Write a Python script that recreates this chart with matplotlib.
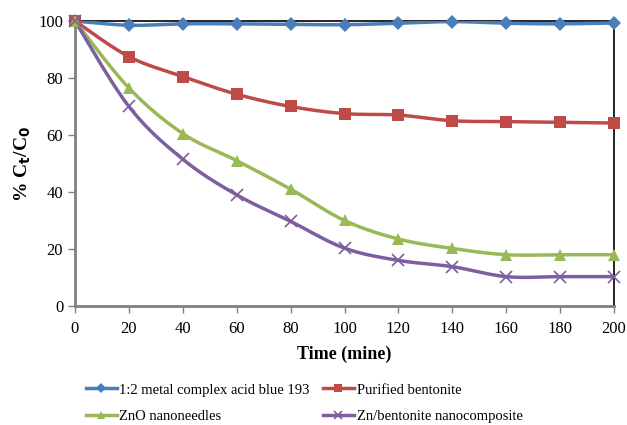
import numpy as np
import matplotlib
matplotlib.use("Agg")
import matplotlib.pyplot as plt
from matplotlib.lines import Line2D

plt.rcParams['font.family'] = ['Liberation Serif', 'DejaVu Serif']

time = [0, 20, 40, 60, 80, 100, 120, 140, 160, 180, 200]
dye = [100, 98.5, 99.0, 99.0, 98.8, 98.7, 99.2, 99.8, 99.2, 99.0, 99.3]
bentonite = [100, 87.5, 80.5, 74.3, 70.0, 67.5, 67.0, 65.0, 64.7, 64.5, 64.2]
zno = [100, 76.5, 60.5, 51.0, 41.0, 30.0, 23.5, 20.2, 18.0, 18.0, 18.0]
composite = [100, 70.0, 51.5, 39.0, 29.7, 20.3, 16.0, 13.8, 10.3, 10.3, 10.3]
labels = ["1:2 metal complex acid blue 193", "Purified bentonite",
          "ZnO nanoneedles", "Zn/bentonite nanocomposite"]


def smooth(x, y, n=20):
    # Catmull-Rom style smoothing for the drawn line (like Excel smoothed lines)
    x = np.asarray(x, float); y = np.asarray(y, float)
    px = np.concatenate([[x[0]], x, [x[-1]]])
    py = np.concatenate([[y[0]], y, [y[-1]]])
    xs, ys = [], []
    for i in range(1, len(px) - 2):
        t = np.linspace(0, 1, n, endpoint=False)
        for p, out in ((px, xs), (py, ys)):
            p0, p1, p2, p3 = p[i - 1], p[i], p[i + 1], p[i + 2]
            out.extend(0.5 * ((2 * p1) + (-p0 + p2) * t +
                              (2 * p0 - 5 * p1 + 4 * p2 - p3) * t ** 2 +
                              (-p0 + 3 * p1 - 3 * p2 + p3) * t ** 3))
    xs.append(x[-1]); ys.append(y[-1])
    return np.array(xs), np.array(ys)


fig = plt.figure(figsize=(6.27, 4.25), dpi=100)
ax = fig.add_axes([0.1196, 0.28, 0.9793 - 0.1196, 0.9506 - 0.28])

series = [
    (dye, '#4a7ebb', 'D', 7),
    (bentonite, '#be4b48', 's', 9),
    (zno, '#98b954', '^', 9),
    (composite, '#7d5fa0', 'x', 8),
]
handles = []
for (vals, c, m, ms), lab in zip(series, labels):
    sx, sy = smooth(time, vals)
    ax.plot(sx, sy, color=c, lw=2.5, zorder=3, solid_capstyle='round')
    mew = 1.2 if m == 'x' else 0
    ax.plot(time, vals, ls='none', marker=m, color=c, ms=ms, mew=mew, zorder=4, clip_on=False)
    handles.append(Line2D([0], [0], color=c, lw=2.5, marker=m, ms=ms * 0.7, mew=mew))

ax.set_xlim(0, 200)
ax.set_ylim(0, 100)
ax.set_xticks(time)
ax.set_yticks([0, 20, 40, 60, 80, 100])
ax.tick_params(axis='both', labelsize=12, direction='out', length=5, width=1, colors='#808080',
               labelcolor='black')
ax.tick_params(axis='x', pad=6)
for s in ('left', 'bottom'):
    ax.spines[s].set_color('#808080')
    ax.spines[s].set_linewidth(2)
for s in ('top', 'right'):
    ax.spines[s].set_color('black')
    ax.spines[s].set_linewidth(1.2)

ax.set_xlabel('Time (mine)', fontsize=13, fontweight='bold', labelpad=6)
ax.set_ylabel('% C$_\\mathbf{t}$/C$_\\mathbf{0}$', fontsize=14, fontweight='bold', labelpad=4)

order = [0, 2, 1, 3]
fig.legend([handles[i] for i in order], [labels[i] for i in order],
           loc='upper left', bbox_to_anchor=(0.137, 0.098), ncol=2,
           frameon=False, fontsize=10.5, handlelength=2.1, columnspacing=0.9,
           handletextpad=0.2, labelspacing=0.9, borderpad=0, borderaxespad=0)

fig.savefig('out.png', dpi=100)
